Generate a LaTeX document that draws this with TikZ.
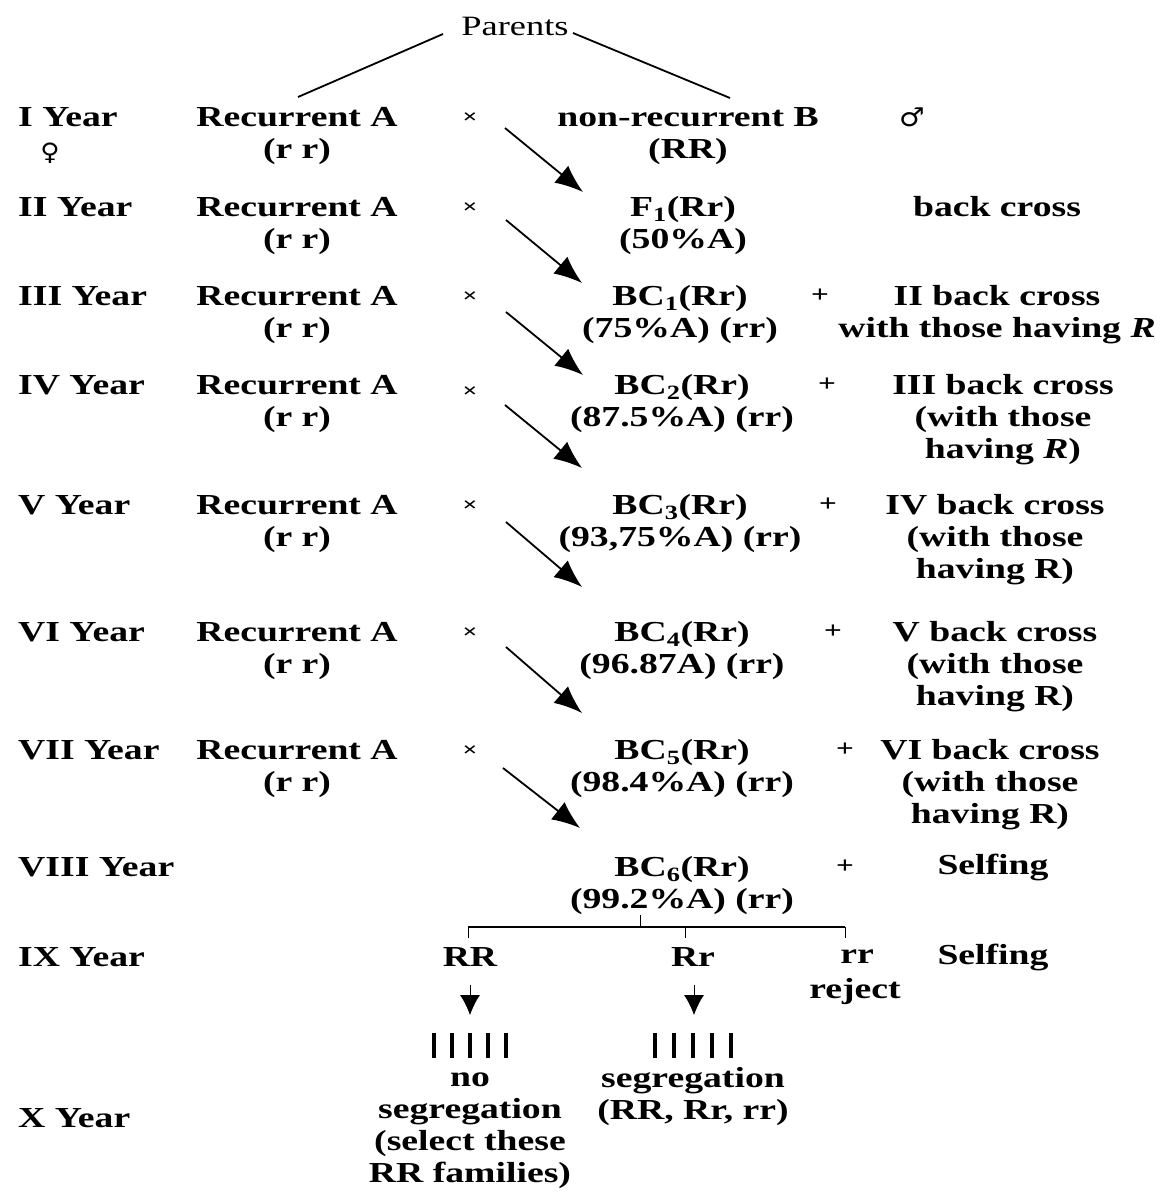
\documentclass[tikz,border=0pt]{standalone}
\usepackage{fontspec}
\setmainfont{Liberation Serif}[FakeStretch=1.3]
\newfontfamily\symfont{DejaVu Sans}[FakeStretch=1.1]
\usetikzlibrary{arrows.meta}
\begin{document}
\begin{tikzpicture}[x=1pt,y=-1pt,
  every node/.style={font=\fontsize{29}{32}\selectfont\bfseries, inner sep=0pt, align=center},
  yearlbl/.style={anchor=west},
  crossmark/.style={font=\fontsize{20}{22}\selectfont\bfseries},
  plusmark/.style={font=\fontsize{24}{26}\selectfont\bfseries},
  conn/.style={line width=1.8pt},
  bcarrow/.style={line width=1.8pt, -{Latex[length=28pt,width=22pt]}},
  downarrow/.style={line width=0.8pt, -{Latex[length=20pt,width=20pt]}},
  tally/.style={line width=4pt}]
\fill[white] (0,0) rectangle (1167,1194);
\useasboundingbox (0,0) rectangle (1167,1194);

% Parents
\node[font=\fontsize{28}{32}\selectfont] (par) at (515,26) {Parents};
\coordinate (pA) at (298,97);
\coordinate (pB) at (730,98);
\coordinate (pAs) at (443,34);
\coordinate (pBs) at (573,33);
\draw[conn] (pAs) -- (pA);
\draw[conn] (pBs) -- (pB);

% Year labels
\node[yearlbl] (y1) at (18,117) {I Year};
\node (fem) at (50,153) {\symfont\fontsize{24}{26}\selectfont ♀};
\node[yearlbl] (y2) at (18,207) {II Year};
\node[yearlbl] (y3) at (18,296) {III Year};
\node[yearlbl] (y4) at (18,385) {IV Year};
\node[yearlbl] (y5) at (18,505) {V Year};
\node[yearlbl] (y6) at (18,632) {VI Year};
\node[yearlbl] (y7) at (18,750) {VII Year};
\node[yearlbl] (y8) at (18,867) {VIII Year};
\node[yearlbl] (y9) at (18,957) {IX Year};
\node[yearlbl] (y10) at (18,1118) {X Year};

% Recurrent parent column
\node (rA1) at (297,136) {Recurrent A\\(r r)};
\node (rA2) at (297,226) {Recurrent A\\(r r)};
\node (rA3) at (297,315) {Recurrent A\\(r r)};
\node (rA4) at (297,404) {Recurrent A\\(r r)};
\node (rA5) at (297,524) {Recurrent A\\(r r)};
\node (rA6) at (297,651) {Recurrent A\\(r r)};
\node (rA7) at (297,769) {Recurrent A\\(r r)};

% crosses
\node[crossmark] (x1) at (470,118) {×};
\node[crossmark] (x2) at (470,208) {×};
\node[crossmark] (x3) at (470,297) {×};
\node[crossmark] (x4) at (470,392) {×};
\node[crossmark] (x5) at (470,506) {×};
\node[crossmark] (x6) at (470,633) {×};
\node[crossmark] (x7) at (470,751) {×};

% Centre column
\node (c1) at (688,136) {non-recurrent B\\(RR)};
\node (c2) at (683,226) {F\textsubscript{1}(Rr)\\(50\%A)};
\node (c3) at (680,315) {BC\textsubscript{1}(Rr)\\(75\%A) (rr)};
\node (c4) at (682,404) {BC\textsubscript{2}(Rr)\\(87.5\%A) (rr)};
\node (c5) at (680,524) {BC\textsubscript{3}(Rr)\\(93,75\%A) (rr)};
\node (c6) at (682,651) {BC\textsubscript{4}(Rr)\\(96.87A) (rr)};
\node (c7) at (682,769) {BC\textsubscript{5}(Rr)\\(98.4\%A) (rr)};
\node (c8) at (682,886) {BC\textsubscript{6}(Rr)\\(99.2\%A) (rr)};

% Right column
\node (male) at (912,117) {\symfont\fontsize{26}{28}\selectfont ♂};
\node (r2) at (997,207) {back cross};
\node[plusmark] (p3) at (820,296) {+};
\node (r3) at (997,315) {II back cross\\with those having \textit{R}};
\node[plusmark] (p4) at (827,385) {+};
\node (r4) at (1003,420) {III back cross\\(with those\\having \textit{R})};
\node[plusmark] (p5) at (828,505) {+};
\node (r5) at (995,540) {IV back cross\\(with those\\having R)};
\node[plusmark] (p6) at (833,632) {+};
\node (r6) at (995,667) {V back cross\\(with those\\having R)};
\node[plusmark] (p7) at (845,750) {+};
\node (r7) at (990,785) {VI back cross\\(with those\\having R)};
\node[plusmark] (p8) at (845,867) {+};
\node (r8) at (993,867) {Selfing};
\node (r9) at (993,957) {Selfing};

% Back-cross arrows
\coordinate (a1s) at (505,128); \coordinate (a1e) at (583,192);
\coordinate (a2s) at (506,220); \coordinate (a2e) at (582,283);
\coordinate (a3s) at (506,312); \coordinate (a3e) at (583,375);
\coordinate (a4s) at (505,405); \coordinate (a4e) at (582,468);
\coordinate (a5s) at (506,522); \coordinate (a5e) at (582,587);
\coordinate (a6s) at (506,647); \coordinate (a6e) at (582,713);
\coordinate (a7s) at (503,768); \coordinate (a7e) at (580,828);
\foreach \i in {1,...,7} \draw[bcarrow] (a\i s) -- (a\i e);

% IX year split
\node (RR) at (470,957) {RR};
\node (Rr) at (693,957) {Rr};
\node (rr) at (857,957) {rr};
\node (rej) at (855,992) {reject};
\coordinate (stem) at (640,915);
\coordinate (bm) at (640,927);
\coordinate (bl) at (468,927);
\coordinate (br) at (845,927);
\coordinate (bmid) at (685,927);
\coordinate (tl) at (468,938);
\coordinate (tm) at (685,938);
\coordinate (tr) at (845,938);
\draw[line width=1pt] (stem) -- (bm);
\draw[line width=1.4pt] (bl) -- (br);
\draw[line width=1pt] (bl) -- (tl);
\draw[line width=1pt] (bmid) -- (tm);
\draw[line width=1pt] (br) -- (tr);

% down arrows
\coordinate (d1s) at (470,985); \coordinate (d1e) at (470,1015);
\coordinate (d2s) at (694,985); \coordinate (d2e) at (694,1015);
\draw[downarrow] (d1s) -- (d1e);
\draw[downarrow] (d2s) -- (d2e);

% tally bars
\foreach \x in {434,452,470,488,506} \draw[tally] (\x,1033) -- (\x,1058);
\foreach \x in {655,674,693,712,731} \draw[tally] (\x,1033) -- (\x,1058);

% X year texts
\node (noseg) at (470,1131) {no\\segregation\\(select these\\RR families)};
\node (seg) at (693,1097) {segregation\\(RR, Rr, rr)};
\end{tikzpicture}
\end{document}
